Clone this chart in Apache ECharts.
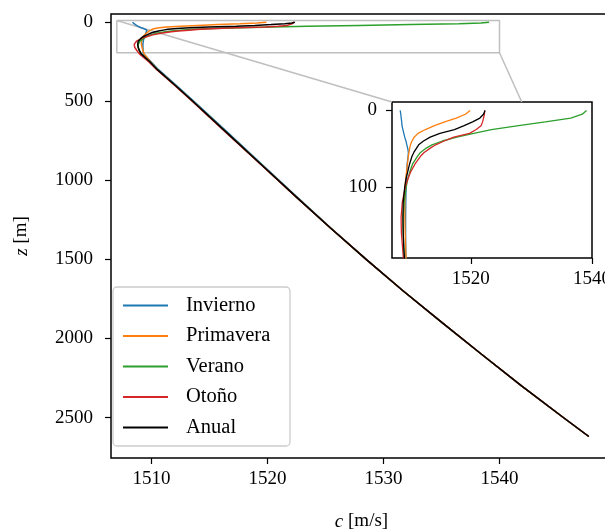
<!DOCTYPE html>
<html><head><meta charset="utf-8">
<script src="https://cdn.jsdelivr.net/npm/echarts@6/dist/echarts.min.js"></script>
<style>html,body{margin:0;padding:0;background:#fff}#c{width:605px;height:531px}</style>
</head><body><div id="c"></div>
<script>
// depth (m)
const depth = [0,5,10,15,20,25,30,35,40,45,50,55,60,70,80,90,100,120,140,160,180,200,250,300,400,500,700,900,1100,1300,1500,1700,1900,2100,2300,2500,2620];
// sound speed (m/s) per season
const invierno  = [1508.35,1508.45,1508.52,1508.6,1508.65,1508.8,1508.95,1509.1,1509.3,1509.45,1509.6,1509.7,1509.65,1509.5,1509.42,1509.38,1509.33,1509.28,1509.25,1509.25,1509.27,1509.3,1509.95,1510.6,1512.15,1513.65,1516.6,1519.53,1522.46,1525.44,1528.52,1531.71,1535.05,1538.45,1541.9,1545.5,1547.7];
const primavera = [1519.9,1519.1,1517.6,1515.7,1514.0,1512.5,1511.3,1510.65,1510.3,1510.05,1509.9,1509.8,1509.7,1509.55,1509.4,1509.25,1509.18,1509.12,1509.12,1509.18,1509.26,1509.35,1509.9,1510.5,1512.05,1513.55,1516.5,1519.45,1522.4,1525.4,1528.5,1531.7,1535.05,1538.45,1541.9,1545.5,1547.7];
const verano    = [1539.1,1538.4,1536.5,1532.3,1527.9,1523.4,1520.5,1517.7,1515.3,1513.6,1512.5,1511.7,1511.2,1510.4,1509.95,1509.6,1509.35,1509.0,1508.85,1508.85,1508.95,1509.1,1509.85,1510.5,1512.05,1513.55,1516.5,1519.45,1522.4,1525.4,1528.5,1531.7,1535.05,1538.45,1541.9,1545.5,1547.7];
const otono     = [1522.3,1522.25,1522.1,1521.95,1521.7,1520.9,1519.8,1517.2,1515.6,1514.2,1513.2,1512.3,1511.7,1510.8,1510.1,1509.6,1509.2,1508.7,1508.5,1508.55,1508.75,1508.95,1509.75,1510.45,1512.0,1513.5,1516.45,1519.42,1522.38,1525.4,1528.5,1531.7,1535.05,1538.45,1541.9,1545.5,1547.7];
const anual     = [1522.35,1522.1,1521.5,1520.3,1518.9,1517.3,1514.9,1513.3,1512.2,1511.4,1511.0,1510.6,1510.3,1509.9,1509.6,1509.3,1509.1,1508.85,1508.8,1508.85,1508.95,1509.1,1509.85,1510.5,1512.05,1513.55,1516.5,1519.45,1522.4,1525.4,1528.5,1531.7,1535.05,1538.45,1541.9,1545.5,1547.7];

const seriesNames  = ['Invierno','Primavera','Verano','Otoño','Anual'];
const seriesValues = [invierno, primavera, verano, otono, anual];
const seriesColors = ['#1f77b4','#ff7f0e','#2ca02c','#d62728','#000000'];

const xTicks = [1510,1520,1530,1540];
const zTicks = [0,500,1000,1500,2000,2500];
const insetXTicks = [1520,1540];
const insetZTicks = [0,100];
const mainXRange = [1506.5,1549.7];
const mainZRange = [-52,2756];
const insetXRange = [1507,1540];
const insetZRange = [-11,193];

const FONT = 'Liberation Serif';
const chart = echarts.init(document.getElementById('c'), null, {renderer:'canvas'});

function axisCommon(ticks, margin) {
  return {
    type:'value',
    axisLine:{show:false, onZero:false},
    splitLine:{show:false},
    axisTick:{show:true, inside:false, length:6, lineStyle:{color:'#000', width:1.2}, customValues:ticks},
    axisLabel:{customValues:ticks, color:'#000', fontFamily:FONT, fontSize:19, margin:margin,
      formatter:function(v){return String(v);}}
  };
}

const series = [];
seriesNames.forEach((n,i)=>{
  const data = depth.map((z,k)=>[seriesValues[i][k], z]);
  series.push({type:'line', name:n, xAxisIndex:0, yAxisIndex:0, data:data, symbol:'none',
    lineStyle:{color:seriesColors[i], width:1.5}, itemStyle:{color:seriesColors[i]}, z:3, silent:true});
});
seriesNames.forEach((n,i)=>{
  const data = depth.map((z,k)=>[seriesValues[i][k], z]);
  series.push({type:'line', name:n, xAxisIndex:1, yAxisIndex:1, data:data, symbol:'none',
    lineStyle:{color:seriesColors[i], width:1.3}, itemStyle:{color:seriesColors[i]}, z:3, silent:true});
});
// zoom rectangle in main axes
series.push({type:'line', name:'zoomBox', xAxisIndex:0, yAxisIndex:0, symbol:'none', silent:true, z:1,
  lineStyle:{color:'#bfbfbf', width:1.5},
  data:[[insetXRange[0],insetZRange[0]],[insetXRange[1],insetZRange[0]],[insetXRange[1],insetZRange[1]],[insetXRange[0],insetZRange[1]],[insetXRange[0],insetZRange[0]]]});

const nameStyle = {color:'#000', fontFamily:FONT, fontSize:19, rich:{i:{fontStyle:'italic', fontFamily:FONT, fontSize:19, color:'#000'}}};

const option = {
  animation:false,
  backgroundColor:'#fff',
  grid:[
    {left:111, top:14, width:501, height:444, show:true, borderColor:'#000', borderWidth:1.5, backgroundColor:'rgba(0,0,0,0)', outerBoundsMode:'none', containLabel:false},
    {left:392, top:102, width:200, height:156, show:true, borderColor:'#000', borderWidth:1.5, backgroundColor:'#fff', outerBoundsMode:'none', containLabel:false}
  ],
  xAxis:[
    Object.assign(axisCommon(xTicks,12), {gridIndex:0, min:mainXRange[0], max:mainXRange[1], position:'bottom',
      name:'{i|c} [m/s]', nameLocation:'middle', nameGap:54, nameTextStyle:nameStyle}),
    Object.assign(axisCommon(insetXTicks,12), {gridIndex:1, min:insetXRange[0], max:insetXRange[1], position:'bottom'})
  ],
  yAxis:[
    Object.assign(axisCommon(zTicks,18), {gridIndex:0, min:mainZRange[0], max:mainZRange[1], inverse:true, position:'left',
      name:'{i|z} [m]', nameLocation:'middle', nameRotate:90, nameGap:80, nameTextStyle:nameStyle}),
    Object.assign(axisCommon(insetZTicks,15), {gridIndex:1, min:insetZRange[0], max:insetZRange[1], inverse:true, position:'left'})
  ],
  legend:{
    data:seriesNames.map(n=>({name:n, icon:'rect'})), orient:'vertical', left:113, top:287,
    itemWidth:45, itemHeight:2, itemGap:9.5,
    padding:[8,14,8,10],
    backgroundColor:'rgba(255,255,255,0.8)', borderColor:'#cccccc', borderWidth:1.3, borderRadius:4,
    textStyle:{color:'#000', fontFamily:FONT, fontSize:20.5, lineHeight:21, width:90, padding:[0,0,0,13]},
    selectedMode:false
  },
  series:series
};
chart.setOption(option);

// inset connector lines (computed through the library's coordinate system)
const a = chart.convertToPixel({gridIndex:0}, [insetXRange[0], insetZRange[0]]);
const b = chart.convertToPixel({gridIndex:1}, [insetXRange[0], insetZRange[0]]);
const c = chart.convertToPixel({gridIndex:0}, [insetXRange[1], insetZRange[1]]);
const d = chart.convertToPixel({gridIndex:1}, [insetXRange[1], insetZRange[1]]);
const topY = b[1];
const t = (topY - c[1]) / (d[1] - c[1]);
const e = [c[0] + t*(d[0]-c[0]), topY];
chart.setOption({graphic:[
  {type:'line', shape:{x1:a[0],y1:a[1],x2:b[0],y2:b[1]}, style:{stroke:'#bfbfbf', lineWidth:1.5}, z:1, silent:true},
  {type:'line', shape:{x1:c[0],y1:c[1],x2:e[0],y2:e[1]}, style:{stroke:'#bfbfbf', lineWidth:1.5}, z:1, silent:true}
]});
</script>
</body></html>
